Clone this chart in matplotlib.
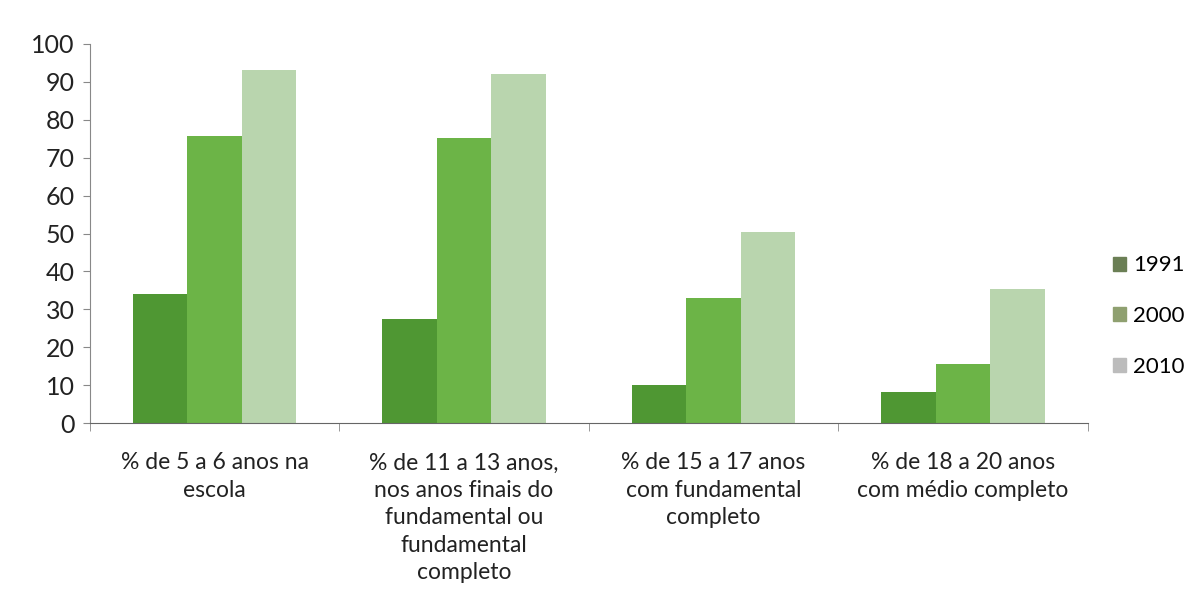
import numpy as np
import matplotlib.pyplot as plt

plt.rcParams['font.family'] = ['Lato', 'DejaVu Sans']

categorias = ['% de 5 a 6 anos na\nescola',
              '% de 11 a 13 anos,\nnos anos finais do\nfundamental ou\nfundamental\ncompleto',
              '% de 15 a 17 anos\ncom fundamental\ncompleto',
              '% de 18 a 20 anos\ncom médio completo']
anos = ['1991', '2000', '2010']
v1991 = [34.1, 27.6, 10.2, 8.2]
v2000 = [75.6, 75.1, 33.1, 15.7]
v2010 = [93.2, 92.1, 50.3, 35.5]
cores = ['#4f9733', '#6cb447', '#b9d5ae']
cores_legenda = ['#6b7f55', '#8fa070', '#bcbcbc']

fig = plt.figure(figsize=(11.98, 6.09), dpi=100)
ax = fig.add_axes([0.075, 0.305, 0.833, 0.623])

x = np.arange(len(categorias))
w = 0.218
for i, (vals, c) in enumerate(zip([v1991, v2000, v2010], cores)):
    ax.bar(x + (i - 1) * w, vals, width=w, color=c, edgecolor='none')

ax.set_xlim(-0.5, len(categorias) - 0.5)
ax.set_ylim(0, 100)
ax.set_yticks(range(0, 101, 10))
ax.tick_params(axis='y', labelsize=18, length=5, pad=6, color='#888888', labelcolor='#222222')
ax.set_xticks(x)
ax.set_xticklabels(categorias, fontsize=16.5, color='#222222', linespacing=1.38)
ax.tick_params(axis='x', length=0, pad=21)
# separadores entre as categorias
ax.set_xticks(np.arange(-0.5, len(categorias)), minor=True)
ax.tick_params(axis='x', which='minor', length=6, color='#888888')

for s in ['top', 'right']:
    ax.spines[s].set_visible(False)
ax.spines['left'].set_color('#888888')
ax.spines['bottom'].set_color('#666666')

handles = [plt.Rectangle((0, 0), 1, 1, color=c) for c in cores_legenda]
fig.legend(handles, anos, loc='center left', bbox_to_anchor=(0.929, 0.481),
           frameon=False, fontsize=16, handlelength=0.6, handleheight=0.6,
           handletextpad=0.3, labelspacing=1.38, borderpad=0, borderaxespad=0)

fig.savefig('out.png', dpi=100)
